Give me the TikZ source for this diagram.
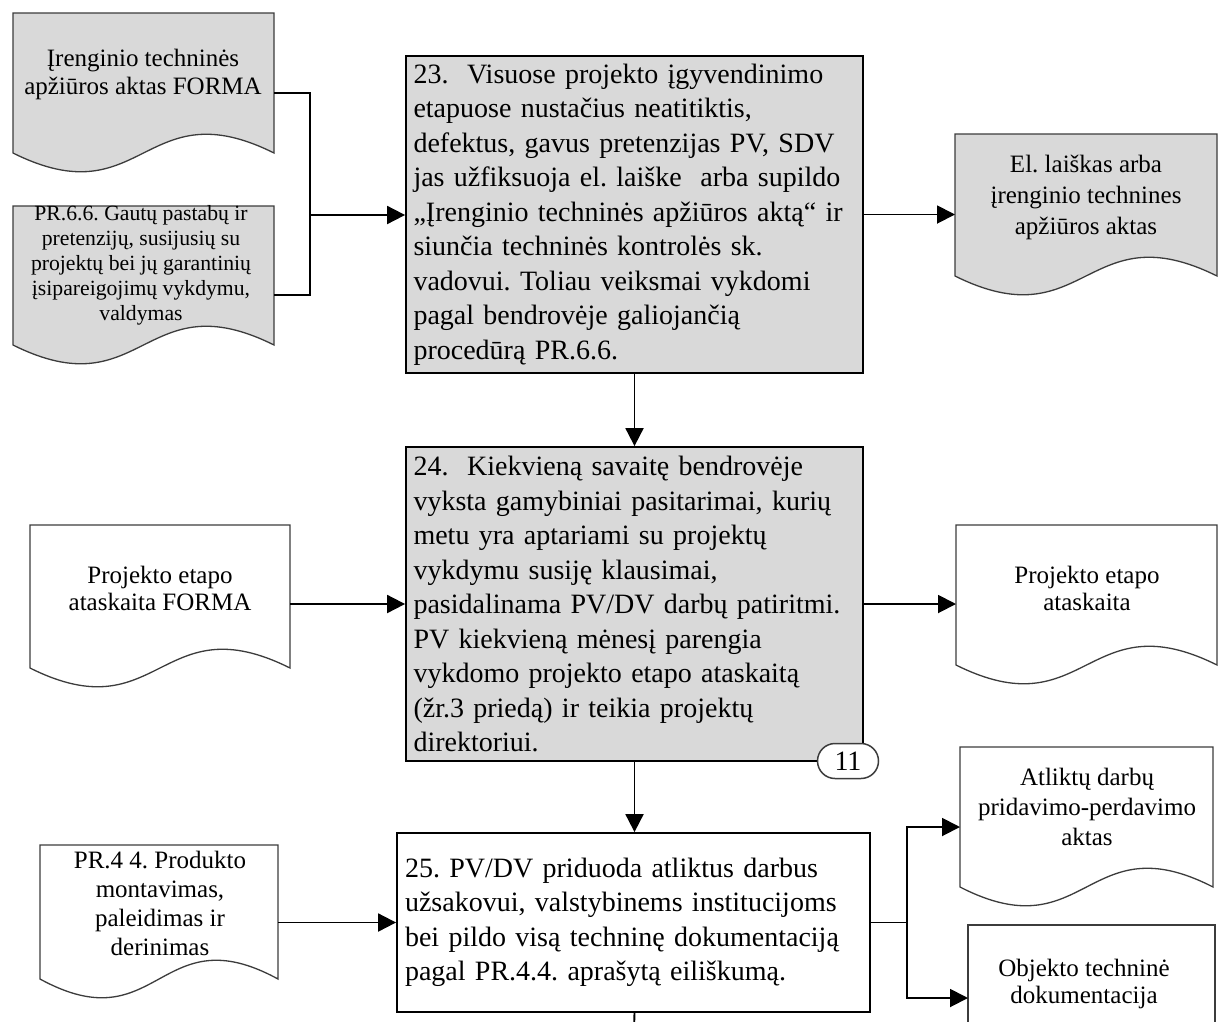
\documentclass[tikz,border=0pt]{standalone}
\usepackage{fontspec}
\setmainfont{Liberation Serif}
\usetikzlibrary{arrows.meta,calc,shapes.misc}
\frenchspacing

\definecolor{boxgray}{RGB}{217,217,217}
\definecolor{edgegray}{RGB}{60,60,60}

% wavy "document" outline drawn around an empty frame node
\newcommand\docpath[2]{%
  \draw[docline, fill=#2] (#1.north west) -- (#1.north east) -- (#1.south east)
    .. controls ($(#1.south)+(0,-65)$) and ($(#1.south)+(0,65)$) .. (#1.south west) -- cycle;}

\tikzset{
  proc/.style={draw=black, line width=1.8pt, inner ysep=0pt, inner xsep=7.5pt,
    align=left, font=\fontsize{28}{34.5}\selectfont},
  frame/.style={draw=none, inner sep=0pt, outer sep=0pt},
  docline/.style={draw=edgegray, line width=1.3pt},
  doctext/.style={align=center, inner sep=0pt, font=\fontsize{25}{#1}\selectfont},
  conn/.style={draw=black, line width=1.9pt},
  arr/.style={conn, -{Triangle[length=18pt,width=18pt]}},
}

\begin{document}
\begin{tikzpicture}[x=1pt,y=-1pt]
\path[use as bounding box] (0,0) rectangle (1221,1021);
\clip (0,0) rectangle (1221,1021);
\fill[white] (0,0) rectangle (1221,1021);

% ---- input documents, left column
\node[frame, minimum width=261, minimum height=140] (d1) at (143.5,83) {};
\docpath{d1}{boxgray}
\node[doctext=28] (d1t) at (143,74) {Įrenginio techninės\\apžiūros aktas FORMA};

\node[frame, minimum width=261, minimum height=139] (d2) at (143.5,275.5) {};
\docpath{d2}{boxgray}
\node[align=center, inner sep=0pt, font=\fontsize{21.7}{25}\selectfont] (d2t) at (141,265)
  {PR.6.6. Gautų pastabų ir\\pretenzijų, susijusių su\\projektų bei jų garantinių\\įsipareigojimų vykdymu,\\valdymas};

\node[frame, minimum width=260, minimum height=143] (d4) at (160,596.5) {};
\docpath{d4}{white}
\node[doctext=27] (d4t) at (160,588) {Projekto etapo\\ataskaita FORMA};

\node[frame, minimum width=238, minimum height=134] (d6) at (159,912) {};
\docpath{d6}{white}
\node[doctext=29] (d6t) at (160,903.5) {PR.4 4. Produkto\\montavimas,\\paleidimas ir\\derinimas};

% ---- process steps
\node[proc, fill=boxgray, text width=442, minimum height=317] (b23) at (634.5,214.5)
  {23.\ \ Visuose projekto įgyvendinimo\\
   etapuose nustačius neatitiktis,\\
   defektus, gavus pretenzijas PV, SDV\\
   jas užfiksuoja el. laiške\ \ arba supildo\\
   „Įrenginio techninės apžiūros aktą“ ir\\
   siunčia techninės kontrolės sk.\\
   vadovui. Toliau veiksmai vykdomi\\
   pagal bendrovėje galiojančią\\
   procedūrą PR.6.6.};

\node[proc, fill=boxgray, text width=442, minimum height=314] (b24) at (634.5,604)
  {24.\ \ Kiekvieną savaitę bendrovėje\\
   vyksta gamybiniai pasitarimai, kurių\\
   metu yra aptariami su projektų\\
   vykdymu susiję klausimai,\\
   pasidalinama PV/DV darbų patiritmi.\\
   PV kiekvieną mėnesį parengia\\
   vykdomo projekto etapo ataskaitą\\
   (žr.3 priedą) ir teikia projektų\\
   direktoriui.};

\node[rounded rectangle, draw=edgegray, line width=1.5pt, fill=white,
  minimum width=61, minimum height=35, inner sep=0pt,
  font=\fontsize{28}{28}\selectfont] (n11) at (848,761) {11};

\node[proc, fill=white, text width=457, inner xsep=8pt, minimum height=179] (b25) at (633.5,922.5)
  {25. PV/DV priduoda atliktus darbus\\
   užsakovui, valstybinems institucijoms\\
   bei pildo visą techninę dokumentaciją\\
   pagal PR.4.4. aprašytą eiliškumą.};

% ---- output documents, right column
\node[frame, minimum width=262, minimum height=142] (d3) at (1086,205) {};
\docpath{d3}{boxgray}
\node[doctext=31] (d3t) at (1086,197) {El. laiškas arba\\įrenginio technines\\apžiūros aktas};

\node[frame, minimum width=261, minimum height=140] (d5) at (1086.5,595) {};
\docpath{d5}{white}
\node[doctext=27] (d5t) at (1087,588) {Projekto etapo\\ataskaita};

\node[frame, minimum width=253, minimum height=140] (d7) at (1086.5,817) {};
\docpath{d7}{white}
\node[doctext=30] (d7t) at (1087,807) {Atliktų darbų\\pridavimo-perdavimo\\aktas};

\node[draw=edgegray, line width=1.3pt, fill=white, inner sep=0pt, outer sep=0pt,
  minimum width=247, minimum height=150] (r8) at (1091.5,1000) {};
\node[doctext=27] (r8t) at (1084,983.5) {Objekto techninė\\dokumentacija};

% ---- connectors
\coordinate (j1) at (310,215);
\draw[conn] ([yshift=-10pt]d1.east) -| (j1);
\draw[conn] ([yshift=-19.5pt]d2.east) -| (j1);
\draw[arr] (j1) -- (j1 -| b23.west);

\draw[arr] (b23.east) -- (b23.east -| d3.west);
\draw[arr] (b23.south) -- (b24.north);

\draw[arr] (d4.east |- b24.west) -- (b24.west);
\draw[arr] (b24.east) -- (b24.east -| d5.west);
\draw[arr] (b24.south) -- (b24.south |- b25.north);

\draw[arr] (d6.east |- b25.west) -- (b25.west);
\coordinate (j2) at (907,922.5);
\draw[conn] (b25.east) -- (j2);
\draw[arr] (j2) |- ([yshift=-10pt]d7.west);
\draw[arr] (j2) |- (r8.west |- 0,998);

\coordinate (cont) at (634,1030);
\draw[conn] (b24.south |- b25.south) -- (cont);
\end{tikzpicture}
\end{document}
